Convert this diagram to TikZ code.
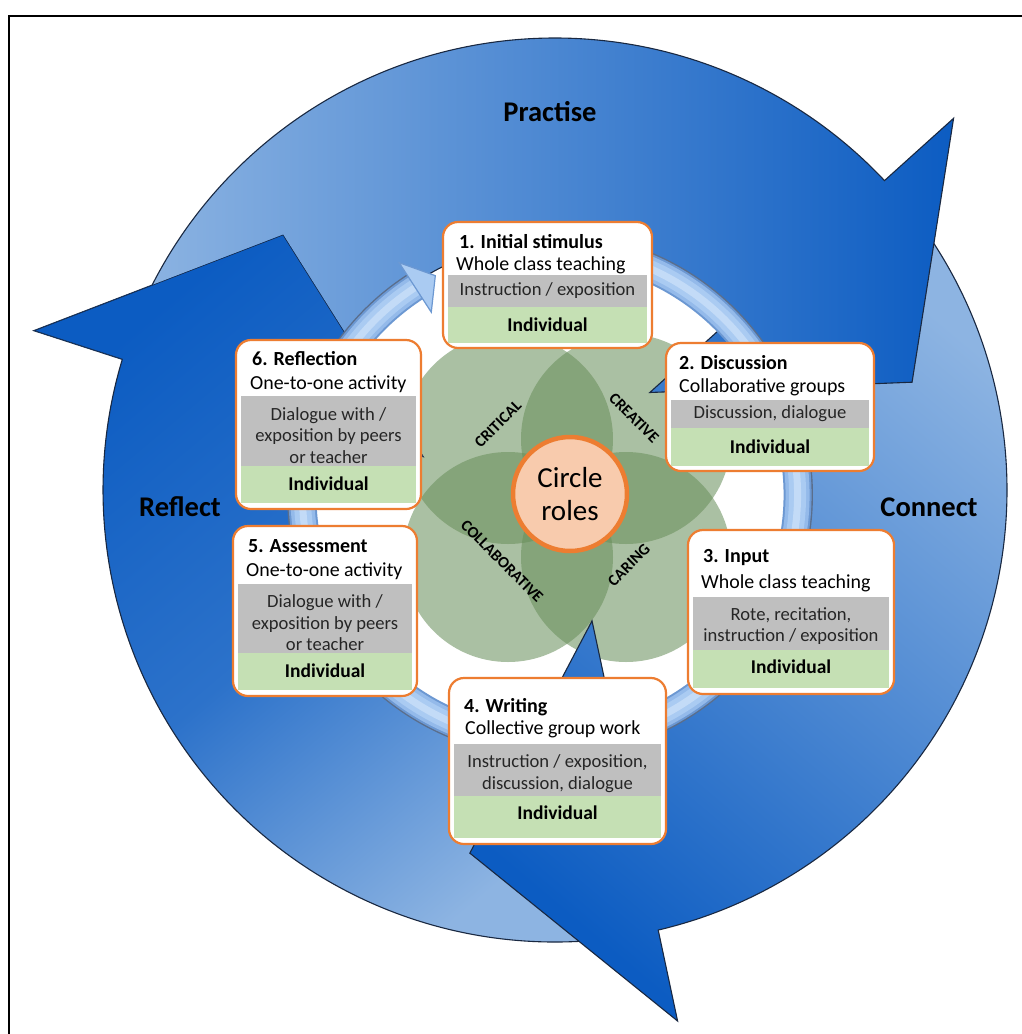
\documentclass[tikz,border=0pt]{standalone}
\usepackage{fontspec}
\setmainfont{Carlito}
\definecolor{aLight}{RGB}{141,180,226}
\definecolor{aDark}{RGB}{12,92,194}
\definecolor{aLine}{RGB}{25,40,65}
\definecolor{orangeB}{RGB}{237,125,49}
\definecolor{bandGray}{RGB}{191,191,191}
\definecolor{bandGreen}{RGB}{197,224,180}
\definecolor{peach}{RGB}{248,203,173}
\definecolor{leaf}{RGB}{105,143,91}
\definecolor{ringEdge}{RGB}{108,152,210}
\definecolor{ringA}{RGB}{148,186,234}
\definecolor{ringMid}{RGB}{170,203,242}
\definecolor{ringHi}{RGB}{195,219,247}
\definecolor{ringShadow}{RGB}{90,110,140}
\definecolor{bandText}{RGB}{38,38,38}
\newcommand\fTitle{\fontsize{20}{24}\selectfont\bfseries}
\newcommand\fSub{\fontsize{19.9}{23}\selectfont}
\newcommand\fBand{\fontsize{18.6}{21.5}\selectfont}
\newcommand\fInd{\fontsize{19.5}{23}\selectfont\bfseries}
\newcommand\fBig{\fontsize{28.5}{34}\selectfont\bfseries}
\newcommand\fRoles{\fontsize{29}{33}\selectfont}
\newcommand\fLeaf{\fontsize{16}{19}\selectfont\bfseries}
\tikzset{
  bigarrow/.style={insert path={(#1+158:452) arc[start angle=#1+158,end angle=#1+43.2,radius=452]
     -- (#1+43:545) -- (#1+16.8:373) -- (#1+45.8:136) -- (#1+44.1:250)
     arc[start angle=#1+44.1,end angle=#1+158,radius=250] -- cycle}},
  headclip/.style={insert path={(#1+43:545) -- (#1+16.8:373) -- (#1+45.8:136) -- cycle}},
  arrowP/.style={draw=aLine, line width=1.1pt, top color=aDark, bottom color=aLight, shading angle=-90},
  arrowC/.style={draw=aLine, line width=1.1pt, top color=aDark, bottom color=aLight, shading angle=140},
  arrowR/.style={draw=aLine, line width=1.1pt, top color=aDark, bottom color=aLight, middle color=aDark!75!aLight, shading angle=40},
  card/.style={draw=orangeB, line width=2.2pt, fill=white, rounded corners=15pt, inner sep=0pt},
  txt/.style={inner sep=0pt, text=black},
  bandtxt/.style={inner sep=0pt, text=bandText, align=center, font=\fBand},
  indtxt/.style={inner sep=0pt, text=black, font=\fInd},
  leaflbl/.style={inner sep=0pt, text=black, font=\fLeaf},
  petal/.style={fill=leaf, fill opacity=0.56},
  ringarc/.style={insert path={(75:247.5) arc[start angle=75, end angle=-237.5, radius=247.5]}}
}
\begin{document}
\begin{tikzpicture}[x=1pt,y=-1pt]
\useasboundingbox (0,0) rectangle (1022,1034);
\fill[white] (0,0) rectangle (1022,1034);
% frame
\draw[line width=1.8pt, black] (9,1034) -- (9,16) -- (1022,16);

% flower
\fill[petal] (567-59,498-59) circle[radius=105];
\fill[petal] (567+59,498-59) circle[radius=105];
\fill[petal] (567-59,498+59) circle[radius=105];
\fill[petal] (567+59,498+59) circle[radius=105];

% big circular arrows
\begin{scope}[shift={(555,490)}, y=1pt]
  \shadedraw[bigarrow=120, arrowR];
  \shadedraw[bigarrow=240, arrowC];
  \shadedraw[bigarrow=0, arrowP];
  \begin{scope}
    \clip[headclip=120];
    \shadedraw[bigarrow=120, arrowR];
  \end{scope}
\end{scope}

% inner ring arrow
\begin{scope}[shift={(550,495)}, y=1pt]
  \draw[ringShadow, line width=1.8pt] (75:262) arc[start angle=75, end angle=-237.5, radius=262];
  \draw[ringEdge, line width=28pt, ringarc];
  \draw[ringA, line width=24pt, ringarc];
  \draw[ringMid, line width=17pt, ringarc];
  \draw[ringHi, line width=7pt, ringarc];
  \filldraw[fill=ringMid, draw=ringEdge, line width=1.2pt] (123:277) -- (117.6:247.5) -- (123:218) -- cycle;
\end{scope}

% centre
\node[circle, draw=orangeB, line width=4.5pt, fill=peach, minimum size=114pt, inner sep=0pt, align=center, font=\fRoles] (roles) at (570,494) {Circle\\roles};
\node[leaflbl, rotate=45] (critical) at (498,424) {CRITICAL};
\node[leaflbl, rotate=-45] (creative) at (634,418) {CREATIVE};
\node[leaflbl, rotate=-45] (collab) at (502,561) {COLLABORATIVE};
\node[leaflbl, rotate=45] (caring) at (629,565) {CARING};

% box 1
\node[card, minimum width=209pt, minimum height=126pt] (box1) at (547.5,285) {};
\fill[bandGray] (448,275) rectangle (647,307);
\fill[bandGreen] (448,307) rectangle (647,343);
\node[txt, anchor=west, font=\fTitle] (b1t) at (459,242) {1. Initial stimulus};
\node[txt, anchor=west, font=\fSub] (b1s) at (456,265) {Whole class teaching};
\node[bandtxt] (b1g) at (547.5,291) {Instruction / exposition};
\node[indtxt] (b1i) at (547.5,325) {Individual};

% box 2
\node[card, minimum width=208pt, minimum height=128pt] (box2) at (770,407) {};
\fill[bandGray] (671,400) rectangle (869,428);
\fill[bandGreen] (671,428) rectangle (869,466);
\node[txt, anchor=west, font=\fTitle] (b2t) at (679,363) {2. Discussion};
\node[txt, anchor=west, font=\fSub] (b2s) at (679,387) {Collaborative groups};
\node[bandtxt] (b2g) at (770,414) {Discussion, dialogue};
\node[indtxt] (b2i) at (770,447) {Individual};

% box 3
\node[card, minimum width=206pt, minimum height=164pt] (box3) at (791,612) {};
\fill[bandGray] (693,597) rectangle (889,650);
\fill[bandGreen] (693,650) rectangle (889,688);
\node[txt, anchor=west, font=\fTitle] (b3t) at (703,558) {3. Input};
\node[txt, anchor=west, font=\fSub] (b3s) at (701,583) {Whole class teaching};
\node[bandtxt] (b3g) at (791,626) {Rote, recitation,\\instruction / exposition};
\node[indtxt] (b3i) at (791,667) {Individual};

% box 4
\node[card, minimum width=217pt, minimum height=166pt] (box4) at (557.5,761) {};
\fill[bandGray] (454,744) rectangle (661,796);
\fill[bandGreen] (454,796) rectangle (661,838);
\node[txt, anchor=west, font=\fTitle] (b4t) at (464,707) {4. Writing};
\node[txt, anchor=west, font=\fSub] (b4s) at (465,729) {Collective group work};
\node[bandtxt] (b4g) at (557.5,773.5) {Instruction / exposition,\\discussion, dialogue};
\node[indtxt] (b4i) at (557.5,813) {Individual};

% box 5
\node[card, minimum width=184pt, minimum height=170pt] (box5) at (325,611) {};
\fill[bandGray] (238,584) rectangle (412,653);
\fill[bandGreen] (238,653) rectangle (412,690);
\node[txt, anchor=west, font=\fTitle] (b5t) at (248,546) {5. Assessment};
\node[txt, anchor=west, font=\fSub] (b5s) at (246,571) {One-to-one activity};
\node[bandtxt] (b5g) at (325,623) {Dialogue with /\\exposition by peers\\or teacher};
\node[indtxt] (b5i) at (325,671) {Individual};

% box 6
\node[card, minimum width=185pt, minimum height=169pt] (box6) at (328.5,424.5) {};
\fill[bandGray] (241,396) rectangle (416,466);
\fill[bandGreen] (241,466) rectangle (416,503);
\node[txt, anchor=west, font=\fTitle] (b6t) at (252,359) {6. Reflection};
\node[txt, anchor=west, font=\fSub] (b6s) at (250,384) {One-to-one activity};
\node[bandtxt] (b6g) at (328.5,435.5) {Dialogue with /\\exposition by peers\\or teacher};
\node[indtxt] (b6i) at (328.5,484) {Individual};

% cycle labels
\node[txt, font=\fBig] (practise) at (550,112) {Practise};
\node[txt, font=\fBig] (reflect) at (180,507) {Reflect};
\node[txt, font=\fBig] (connect) at (929,507) {Connect};
\end{tikzpicture}
\end{document}
